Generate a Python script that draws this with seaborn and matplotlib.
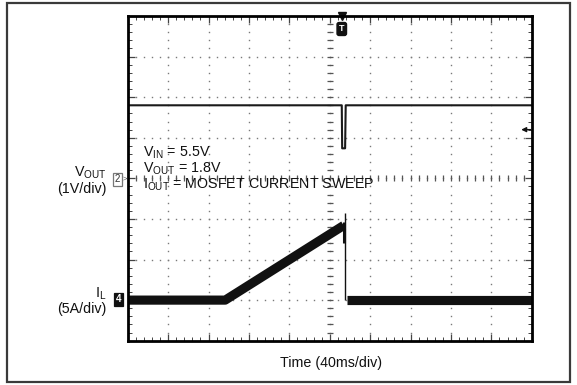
import numpy as np
import pandas as pd
import matplotlib
matplotlib.use("Agg")
import matplotlib.pyplot as plt
import seaborn as sns
from matplotlib.ticker import MultipleLocator
from matplotlib.patches import Rectangle

# Scope settings
time_per_div_ms = 40
n_xdiv, n_ydiv = 10, 8
vout_scale = 1.0      # V/div
il_scale = 5.0        # A/div
vout_ground_div = 4
il_ground_div = 1

# Channel 2: output voltage (ms, V)
vout_t = [0, 211.9, 212.3, 215.2, 215.8, 400]
vout_v = [1.8, 1.8, 0.74, 0.74, 1.8, 1.8]

# Channel 4: inductor current (ms, A)
il_ramp_t = [0, 96.5, 213.8]
il_ramp_a = [0, 0, 9.2]
il_drop_t = [214.6, 214.6]
il_drop_a = [9.6, 7.0]
il_spike_t = [215.2, 215.2]
il_spike_a = [10.7, 0]
il_tail_t = [216.6, 400]
il_tail_a = [0, 0]

trigger_t = 211.9
trigger_level_v = 1.2

annotation_lines = [r"V$_{\mathregular{IN}}$ = 5.5V",
                    r"V$_{\mathregular{OUT}}$ = 1.8V",
                    r"I$_{\mathregular{OUT}}$ = MOSFET CURRENT SWEEP"]


def to_div(values, ground, scale):
    return ground + np.asarray(values, dtype=float) / scale


sns.set_theme(style="white")
plt.rcParams["font.family"] = ["Liberation Sans", "DejaVu Sans"]

W, H = 577, 385
FS = 10.3
fig = plt.figure(figsize=(W / 100, H / 100), dpi=100)
fig.patch.set_facecolor("white")


def fx(px):
    return px / W


def fy(py):
    return 1 - py / H


# outer frame
fig.patches.append(Rectangle((fx(7), fy(382)), fx(570) - fx(7), fy(3) - fy(382),
                             transform=fig.transFigure, fill=False,
                             edgecolor="#3a3a3a", linewidth=1.6))

ax = fig.add_axes([fx(127.7), fy(340.7), fx(531.8) - fx(127.7), fy(16) - fy(340.7)])
ax.set_facecolor("white")
xmax = time_per_div_ms * n_xdiv
ax.set_xlim(0, xmax)
ax.set_ylim(0, n_ydiv)

# graticule dots
dot_kw = dict(ls="none", marker="s", ms=1.0, color="#7a7a7a", mew=0)
ys = np.arange(0.2, n_ydiv, 0.2)
for k in range(1, n_xdiv):
    ax.plot(np.full_like(ys, k * time_per_div_ms), ys, **dot_kw)
xs = np.arange(time_per_div_ms / 5, xmax, time_per_div_ms / 5)
for j in range(1, n_ydiv):
    ax.plot(xs, np.full_like(xs, j), **dot_kw)

# centre crosshair minor marks
ax.plot(np.full_like(ys, xmax / 2), ys, ls="none", marker="_", ms=4, mew=0.9, color="#555")
ax.plot(xs, np.full_like(xs, n_ydiv / 2), ls="none", marker="|", ms=4, mew=0.9, color="#555")

# frame ticks
ax.xaxis.set_major_locator(MultipleLocator(time_per_div_ms))
ax.xaxis.set_minor_locator(MultipleLocator(time_per_div_ms / 5))
ax.yaxis.set_major_locator(MultipleLocator(1))
ax.yaxis.set_minor_locator(MultipleLocator(0.2))
ax.tick_params(which="both", direction="in", top=True, bottom=True, left=True, right=True,
               labelbottom=False, labelleft=False, color="#444")
ax.tick_params(which="major", length=5, width=0.9)
ax.tick_params(which="minor", length=3, width=0.7)
for s in ax.spines.values():
    s.set_color("black")
    s.set_linewidth(2)

# traces
vout_df = pd.DataFrame({"t": vout_t, "y": to_div(vout_v, vout_ground_div, vout_scale)})
sns.lineplot(data=vout_df, x="t", y="y", ax=ax, sort=False, estimator=None,
             color="#1a1a1a", linewidth=1.5)

for tt, aa, lw in [(il_ramp_t, il_ramp_a, 6.6), (il_tail_t, il_tail_a, 6.6),
                   (il_drop_t, il_drop_a, 2.2), (il_spike_t, il_spike_a, 1.0)]:
    df = pd.DataFrame({"t": tt, "y": to_div(aa, il_ground_div, il_scale)})
    sns.lineplot(data=df, x="t", y="y", ax=ax, sort=False, estimator=None,
                 color="#111", linewidth=lw)
for ln in ax.get_lines()[-4:]:
    ln.set_solid_capstyle("butt")
ax.set_xlabel("")
ax.set_ylabel("")

# trigger position marker
ax.plot([trigger_t], [n_ydiv], marker="v", ms=6, color="#111", clip_on=False)
ax.text(trigger_t, n_ydiv - 0.32, "T", ha="center", va="center", fontsize=6.5,
        fontweight="bold", color="white",
        bbox=dict(boxstyle="round,pad=0.22", fc="#111", ec="#111"))

# trigger level arrow
trig_y = to_div([trigger_level_v], vout_ground_div, vout_scale)[0]
ax.annotate("", xy=(389.5, trig_y), xytext=(399, trig_y),
            arrowprops=dict(arrowstyle="-|>", color="#111", lw=1.0,
                            mutation_scale=7, shrinkA=0, shrinkB=0))

# in-plot conditions
for txt, base in zip(annotation_lines, [156.7, 172.7, 189.0]):
    fig.text(fx(143.3), fy(base), txt, ha="left", va="baseline", fontsize=FS, color="#111")

# channel labels
fig.text(fx(106.5), fy(177), r"V$_{\mathregular{OUT}}$", ha="right", va="baseline", fontsize=FS, color="#111")
fig.text(fx(106.5), fy(192.5), "(1V/div)", ha="right", va="baseline", fontsize=FS, color="#111")
fig.text(fx(106), fy(297.5), r"I$_{\mathregular{L}}$", ha="right", va="baseline", fontsize=FS, color="#111")
fig.text(fx(106), fy(312.5), "(5A/div)", ha="right", va="baseline", fontsize=FS, color="#111")

# channel ground markers
fig.text(fx(117.7), fy(179.3), "2", ha="center", va="center", fontsize=7, color="#333",
         bbox=dict(boxstyle="square,pad=0.18", fc="white", ec="#777", lw=0.9))
fig.text(fx(124.8), fy(179.3), ">", ha="center", va="center", fontsize=5.5, color="#555")
fig.text(fx(118.5), fy(299.5), "4", ha="center", va="center", fontsize=7, color="white",
         fontweight="bold",
         bbox=dict(boxstyle="square,pad=0.2", fc="#111", ec="#111", lw=0.9))

fig.text(fx(331), fy(367), "Time (40ms/div)", ha="center", va="baseline", fontsize=FS, color="#111")

fig.savefig("out.png", dpi=100, facecolor="white")
